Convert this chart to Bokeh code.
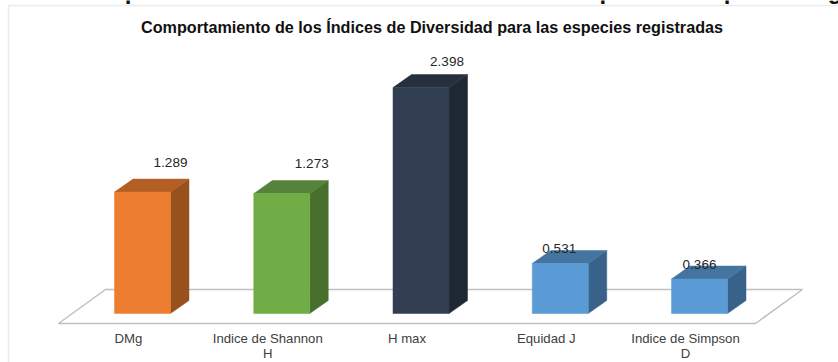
from bokeh.plotting import figure
from bokeh.models import Range1d, FixedTicker, Label, BoxAnnotation
from bokeh.embed import file_html
from bokeh.resources import INLINE

categories = ["DMg", "Indice de Shannon\nH", "H max", "Equidad J", "Indice de Simpson\nD"]
values = [1.289, 1.273, 2.398, 0.531, 0.366]
value_labels = ["1.289", "1.273", "2.398", "0.531", "0.366"]
front_colors = ["#ED7D31", "#70AD47", "#323F52", "#5B9BD5", "#5B9BD5"]
top_colors = ["#B35E25", "#55833A", "#262F3E", "#44749F", "#44749F"]
side_colors = ["#98511C", "#486F2E", "#1F2832", "#38628A", "#38628A"]
title = "Comportamiento de los Índices de Diversidad para las especies registradas"

PX_X, PX_Y = 139.25, 94.2
BAR_W = 56 / PX_X
BAR_SHIFT = 14 / PX_X                # perspective shift of bars from their labels
DX, DY = 18.5 / PX_X, 13 / PX_Y
W, H = 838, 362
X0, Y0 = 128, 313                    # page position of first category / bar base


def dx(px):
    return (px - X0) / PX_X


def dy(py):
    return (Y0 - py) / PX_Y


p = figure(width=W, height=H, output_backend="svg", toolbar_location=None, min_border=0,
           x_range=Range1d(dx(0), dx(W)), y_range=Range1d(dy(H), dy(0)),
           outline_line_color=None, background_fill_color="white")
p.grid.visible = False
p.yaxis.visible = False
ax = p.xaxis[0]
ax.fixed_location = dy(328)
ax.ticker = FixedTicker(ticks=list(range(len(categories))))
ax.major_label_overrides = {i: c for i, c in enumerate(categories)}
ax.axis_line_color = None
ax.major_tick_line_color = None
ax.minor_tick_line_color = None
ax.major_tick_out = 0
ax.major_label_text_font = "Liberation Sans"
ax.major_label_text_font_size = "13.2px"
ax.major_label_text_line_height = 1.0
ax.major_label_text_color = "#404040"
ax.major_label_standoff = 2

# chart frame and the cropped heading above it
p.add_layout(BoxAnnotation(left=dx(8), right=dx(850), top=dy(5), bottom=dy(380), fill_color=None,
                           line_color="#BFBFBF", line_width=1.5, level="underlay"))
p.add_layout(Label(x=dx(71), y=dy(-10), text=title, text_baseline="alphabetic",
                   text_font="Liberation Sans", text_font_size="24px", text_font_style="bold",
                   text_color="#111111"))
p.add_layout(Label(x=dx(431.5), y=dy(26), text=title, text_align="center", text_baseline="alphabetic",
                   text_font="Liberation Sans", text_font_size="16.2px", text_font_style="bold",
                   text_color="#111111"))

# floor
p.patch([dx(58), dx(755), dx(802), dx(105)], [dy(323), dy(323), dy(289), dy(289)],
        fill_color="white", line_color="#BFBFBF", line_width=1.5)

for i, v in enumerate(values):
    c = i + BAR_SHIFT
    l, r = c - BAR_W / 2, c + BAR_W / 2
    p.patch([r, r + DX, r + DX, r], [0, DY, v + DY, v], fill_color=side_colors[i], line_color=side_colors[i], line_width=0.5)
    p.patch([l, r, r + DX, l + DX], [v, v, v + DY, v + DY], fill_color=top_colors[i], line_color=top_colors[i], line_width=0.5)
    p.quad(left=l, right=r, bottom=0, top=v, fill_color=front_colors[i], line_color=front_colors[i], line_width=0.5)

offsets = [(28, 30), (30, 30), (26, 26), (-1, 15), (0, 15)]
for i, (v, t) in enumerate(zip(values, value_labels)):
    ox, oy = offsets[i]
    p.add_layout(Label(x=i + BAR_SHIFT, y=v, x_offset=ox, y_offset=oy, text=t, text_align="center", text_baseline="alphabetic",
                       text_font="Liberation Sans", text_font_size="13.5px", text_color="#262626"))

open("out.html", "w").write(file_html(p, INLINE))
